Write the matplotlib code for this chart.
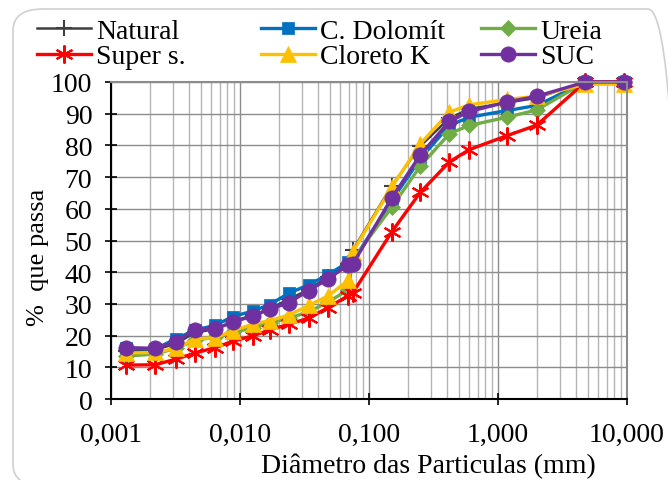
import matplotlib.pyplot as plt
from matplotlib.patches import FancyBboxPatch
from matplotlib.ticker import FixedLocator, LogLocator, NullFormatter

# particle diameter (mm) and % passing for each sample
diam = [0.0013, 0.0022, 0.0032, 0.0045, 0.0064, 0.0088, 0.0127, 0.017, 0.024,
        0.034, 0.048, 0.069, 0.075, 0.15, 0.25, 0.42, 0.6, 1.18, 2.0, 4.75, 9.5]

natural = [15.0, 15.5, 17.5, 21.0, 22.0, 24.5, 26.5, 28.5, 31.5, 34.5, 38.5,
           42.5, 47.0, 67.2, 79.8, 88.6, 91.5, 93.5, 95.0, 100, 100]
dolomit = [16.0, 15.8, 19.0, 21.8, 23.2, 26.0, 27.8, 29.8, 33.4, 36.0, 39.2,
           43.2, 43.5, 62.6, 75.8, 86.3, 88.9, 91.0, 92.6, 100, 100]
ureia = [13.5, 14.2, 16.0, 18.5, 19.5, 21.0, 22.5, 24.0, 25.5, 27.5, 30.5,
         34.5, 44.0, 60.5, 73.5, 83.7, 86.3, 88.9, 91.2, 100, 100]
super_s = [10.7, 10.8, 12.6, 14.5, 16.2, 18.2, 20.0, 21.8, 23.6, 25.5, 28.8,
           32.6, 33.5, 52.7, 65.2, 74.8, 78.7, 83.1, 86.4, 100, 100]
cloreto = [14.5, 14.7, 16.0, 19.0, 19.3, 21.5, 23.7, 24.7, 26.5, 29.5, 32.5,
           37.4, 46.5, 66.8, 80.5, 90.5, 92.8, 94.5, 95.5, 99.3, 99.3]
suc = [16.2, 16.0, 18.1, 21.9, 22.1, 24.2, 26.3, 28.3, 30.4, 34.2, 37.8,
       42.3, 42.6, 63.4, 77.0, 87.6, 90.7, 93.7, 95.5, 100, 100]

x_ticks = [0.001, 0.01, 0.1, 1, 10]
x_labels = ['0,001', '0,010', '0,100', '1,000', '10,000']

plt.rcParams['font.family'] = ['Liberation Serif', 'DejaVu Serif']

fig = plt.figure(figsize=(6.68, 4.81), dpi=100)
ax = fig.add_axes([111 / 668, 1 - 400 / 481, 516 / 668, 317 / 481])

# chart area border (runs off the right and bottom edges)
fig.patches.append(FancyBboxPatch((13 / 668, -6 / 481), 665 / 668, 477 / 481,
                                  boxstyle='round,pad=0,rounding_size=0.045',
                                  transform=fig.transFigure, facecolor='none',
                                  edgecolor='#d0d0d0', linewidth=1.2, zorder=-1))

series = [
    ('Natural', natural, '#404040', '+', 11, 1.8),
    ('C. Dolomít', dolomit, '#0070C0', 's', 9, 2.4),
    ('Ureia', ureia, '#70AD47', 'D', 8, 2.4),
    ('Super s.', super_s, '#FF0000', (6, 2, 0), 13, 2.4),
    ('Cloreto K', cloreto, '#FFC000', '^', 11, 2.4),
    ('SUC', suc, '#7030A0', 'o', 11, 2.4),
]
handles = {}
for name, vals, color, marker, ms, lw in series:
    line, = ax.plot(diam, vals, color=color, marker=marker, markersize=ms,
                    linewidth=lw, markeredgewidth=1.5 if marker in ('+', (6, 2, 0)) else 0.5,
                    markeredgecolor=color, label=name, clip_on=False)
    handles[name] = line

ax.set_xscale('log')
ax.set_xlim(0.001, 10)
ax.set_ylim(0, 100)
ax.xaxis.set_major_locator(FixedLocator(x_ticks))
ax.set_xticklabels(x_labels)
ax.xaxis.set_minor_locator(LogLocator(base=10, subs=range(2, 10)))
ax.xaxis.set_minor_formatter(NullFormatter())
ax.set_yticks(range(0, 101, 10))

ax.grid(True, which='major', axis='y', color='#8c8c8c', linewidth=1.0)
ax.grid(True, which='major', axis='x', color='#8c8c8c', linewidth=1.0)
ax.grid(True, which='minor', axis='x', color='#b4b4b4', linewidth=1.0)
ax.set_axisbelow(True)

for s in ['top', 'right']:
    ax.spines[s].set_color('#8c8c8c')
    ax.spines[s].set_linewidth(1.5)
for s in ['left', 'bottom']:
    ax.spines[s].set_color('black')
    ax.spines[s].set_linewidth(1.5)

ax.tick_params(axis='both', which='major', direction='inout', length=9,
               width=1.2, labelsize=20)
ax.tick_params(axis='y', which='major', pad=9)
ax.tick_params(axis='x', which='minor', length=0)
ax.tick_params(axis='x', which='major', pad=12)

ax.set_xlabel('Diâmetro das Particulas (mm)', fontsize=20)
ax.xaxis.set_label_coords(0.616, -0.17)
ax.set_ylabel('%  que passa', fontsize=19)
ax.yaxis.set_label_coords(-0.12, 0.45)

# legend: one column per legend so each column sits where it does in the source
columns = [(['Natural', 'Super s.'], 26), (['C. Dolomít', 'Cloreto K'], 250),
           (['Ureia', 'SUC'], 470)]
for names, xpix in columns:
    fig.legend([handles[n] for n in names], names, loc='upper left',
               bbox_to_anchor=(xpix / 668, 0.9825), frameon=False, fontsize=20,
               handlelength=1.94, handletextpad=0.18, labelspacing=0.0,
               borderaxespad=0)

fig.savefig('out.png', dpi=100)
